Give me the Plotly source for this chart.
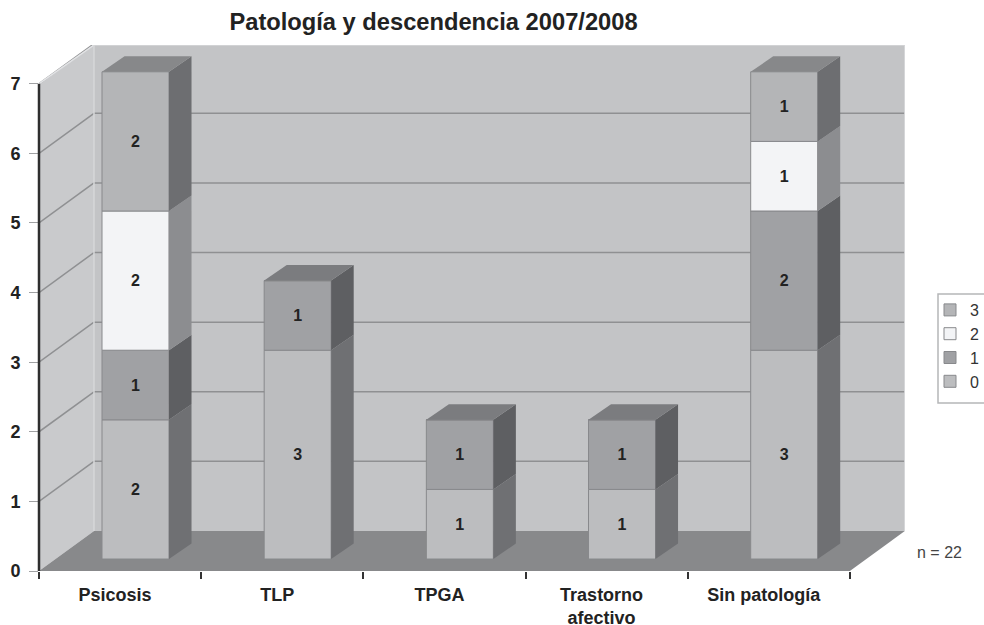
import plotly.graph_objects as go

categories = ["Psicosis", "TLP", "TPGA", "Trastorno<br>afectivo", "Sin patología"]
series_names = ["0", "1", "2", "3"]
series_values = [
    [2, 3, 1, 1, 3],
    [1, 1, 1, 1, 2],
    [2, 0, 0, 0, 1],
    [2, 0, 0, 0, 1],
]
y_ticks = [0, 1, 2, 3, 4, 5, 6, 7]

face_colors = ["#bcbdbf", "#a0a1a4", "#f3f4f6", "#b4b5b7"]
side_colors = ["#6f7073", "#5e5f62", "#8c8d90", "#6d6e71"]
top_colors = ["#8f9092", "#7b7c7f", "#b5b6b8", "#87888a"]

# one category is 162.2 px wide, one y unit is 69.6 px
X_MIN, X_MAX = -0.5, 4.84
Y_MAX = 7.557
WALL_DX, WALL_DY = 0.339, 0.575
BAR_SHIFT_X, BAR_SHIFT_Y = 0.095, 0.172
BAR_WIDTH = 0.413
SIDE_DX, SIDE_DY = 0.139, 0.223


def wall(fig, xs, ys, color):
    path = "M" + " L".join(f"{x},{y}" for x, y in zip(xs, ys)) + " Z"
    fig.add_shape(type="path", path=path, xref="x", yref="y", layer="below",
                  fillcolor=color, line=dict(width=0))


def line(fig, xs, ys, color, width=1.5):
    fig.add_shape(type="line", x0=xs[0], x1=xs[1], y0=ys[0], y1=ys[1],
                  xref="x", yref="y", layer="below",
                  line=dict(color=color, width=width))


def polygon(fig, xs, ys, color):
    fig.add_trace(go.Scatter(x=xs, y=ys, xaxis="x2", mode="lines", fill="toself",
                             fillcolor=color, line=dict(width=0),
                             hoverinfo="skip", showlegend=False))


fig = go.Figure()

# walls and floor
back_x = X_MIN + WALL_DX
back_right = 4.5 + WALL_DX
wall(fig, [X_MIN, back_x, back_x, X_MIN], [0, WALL_DY, Y_MAX, 7], "#c9cacc")
wall(fig, [back_x, back_right, back_right, back_x], [WALL_DY, WALL_DY, Y_MAX, Y_MAX], "#c3c4c6")
wall(fig, [X_MIN, back_x, back_right, 4.5], [0, WALL_DY, WALL_DY, 0], "#88898b")
for k in y_ticks[1:]:
    line(fig, [X_MIN, back_x], [k, k + WALL_DY], "#8f9092")
    if k < 7:
        line(fig, [back_x, back_right], [k + WALL_DY, k + WALL_DY], "#8f9092")
line(fig, [X_MIN, back_x], [7, Y_MAX], "#e2e3e5")
line(fig, [back_x, back_right], [Y_MAX, Y_MAX], "#d6d7d9")
line(fig, [back_x, back_x], [WALL_DY, Y_MAX], "#d6d7d9")
line(fig, [back_right, back_right], [WALL_DY, Y_MAX], "#d6d7d9")

# stacked bars, lifted off the front edge of the floor
totals = [BAR_SHIFT_Y] * len(categories)
for s, name in enumerate(series_names):
    values = series_values[s]
    bases = list(totals)
    fig.add_trace(go.Bar(
        x=categories, y=values, base=bases, name=name,
        width=BAR_WIDTH, offset=BAR_SHIFT_X - BAR_WIDTH / 2,
        marker=dict(color=face_colors[s], line=dict(color="#88898c", width=1)),
        text=[str(v) if v else "" for v in values],
        textposition="inside", insidetextanchor="middle", textangle=0,
        insidetextfont=dict(family="Liberation Sans", size=16, color="#222222", weight="bold"),
        legendgroup=name, hoverinfo="skip",
    ))
    for i, v in enumerate(values):
        if v:
            right = i + BAR_SHIFT_X + BAR_WIDTH / 2
            polygon(fig, [right, right + SIDE_DX, right + SIDE_DX, right],
                    [bases[i], bases[i] + SIDE_DY, bases[i] + v + SIDE_DY, bases[i] + v],
                    side_colors[s])
            totals[i] += v

# top caps take the colour of the highest segment
for i, total in enumerate(totals):
    top_series = max(s for s in range(len(series_names)) if series_values[s][i])
    right = i + BAR_SHIFT_X + BAR_WIDTH / 2
    left = right - BAR_WIDTH
    polygon(fig, [left, right, right + SIDE_DX, left + SIDE_DX],
            [total, total, total + SIDE_DY, total + SIDE_DY], top_colors[top_series])

# value axis line stops at 7, the walls go higher
fig.add_shape(type="line", xref="paper", yref="y", x0=0, x1=0, y0=0, y1=7, layer="above",
              line=dict(color="#2e2e2e", width=2.5))

fig.add_shape(type="rect", xref="paper", yref="paper",
              x0=(938 - 39) / 866, x1=1.1, y0=(571 - 403) / 526, y1=(571 - 294) / 526,
              fillcolor="white", line=dict(color="#b5b6b8", width=1.5))
fig.add_annotation(text="n = 22", xref="paper", yref="paper", x=(940 - 39) / 866,
                   y=(571 - 552) / 526, xanchor="center", yanchor="middle", showarrow=False,
                   font=dict(family="Liberation Sans", size=16, color="#444444"))

fig.update_layout(
    title=dict(text="<b>Patología y descendencia 2007/2008</b>",
               font=dict(family="Liberation Sans", size=23.7, color="#222222"),
               x=433.5 / 984, xanchor="center", y=1 - 22 / 625, yanchor="middle"),
    width=984, height=625,
    margin=dict(l=39, r=79, t=45, b=54, pad=0, autoexpand=False),
    paper_bgcolor="white", plot_bgcolor="white",
    barmode="overlay",
    showlegend=True,
    legend=dict(x=(930 - 39) / 866, xanchor="left", y=(571 - 293) / 526, yanchor="top",
                traceorder="reversed", tracegroupgap=8, bgcolor="rgba(0,0,0,0)",
                font=dict(family="Liberation Sans", size=16, color="#333333")),
    xaxis=dict(type="category", categoryorder="array", categoryarray=categories,
               range=[X_MIN, X_MAX], tickson="boundaries", ticks="outside", ticklen=7,
               tickwidth=1.5, tickcolor="#333333", showgrid=False, zeroline=False,
               showline=False, ticklabelshift=-5, ticklabelstandoff=11,
               tickfont=dict(family="Liberation Sans", size=18, color="#222222", weight="bold")),
    xaxis2=dict(overlaying="x", range=[X_MIN, X_MAX], visible=False),
    yaxis=dict(range=[0, Y_MAX], tickvals=y_ticks, ticks="outside", ticklen=9, tickwidth=1,
               tickcolor="#a0a1a3", showgrid=False, zeroline=False, showline=False,
               ticklabelstandoff=5,
               tickfont=dict(family="Liberation Sans", size=18, color="#222222", weight="bold")),
)

# the page default body margin would push the chart 8 px in
fig.write_html("out.html", config=dict(displayModeBar=False),
               post_script="document.body.style.margin='0';")
